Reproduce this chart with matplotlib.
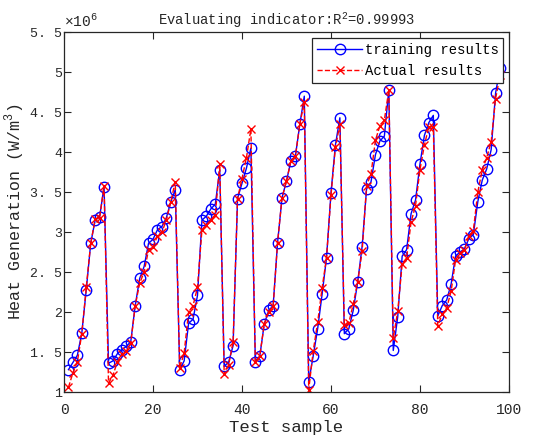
import matplotlib
matplotlib.use("Agg")
import matplotlib.pyplot as plt
import numpy as np

samples = list(range(1, 99))
training = [1.28, 1.37, 1.46, 1.74, 2.28, 2.86, 3.15, 3.19, 3.57, 1.36,
            1.39, 1.48, 1.53, 1.57, 1.63, 2.08, 2.42, 2.57, 2.86, 2.91,
            3.03, 3.07, 3.18, 3.38, 3.53, 1.28, 1.39, 1.86, 1.91, 2.21,
            3.15, 3.20, 3.29, 3.35, 3.78, 1.32, 1.375, 1.58, 3.42, 3.61,
            3.80, 4.05, 1.38, 1.45, 1.85, 2.02, 2.08, 2.87, 3.43, 3.64,
            3.89, 3.95, 4.35, 4.70, 1.13, 1.45, 1.79, 2.22, 2.68, 3.49,
            4.09, 4.43, 1.73, 1.79, 2.02, 2.375, 2.82, 3.54, 3.63, 3.97,
            4.14, 4.20, 4.78, 1.52, 1.94, 2.70, 2.78, 3.23, 3.40, 3.85,
            4.21, 4.37, 4.46, 1.95, 2.08, 2.15, 2.35, 2.70, 2.75, 2.79,
            2.92, 2.97, 3.38, 3.65, 3.79, 4.03, 4.74, 5.05]
actual = [1.06, 1.24, 1.38, 1.73, 2.31, 2.86, 3.16, 3.18, 3.58, 1.11,
          1.21, 1.38, 1.47, 1.51, 1.61, 2.08, 2.36, 2.50, 2.78, 2.82,
          2.95, 3.00, 3.15, 3.38, 3.63, 1.30, 1.49, 2.00, 2.08, 2.31,
          3.03, 3.09, 3.15, 3.22, 3.85, 1.22, 1.34, 1.63, 3.42, 3.67,
          3.93, 4.29, 1.375, 1.45, 1.85, 2.00, 2.07, 2.87, 3.43, 3.64,
          3.89, 3.95, 4.35, 4.63, 1.03, 1.51, 1.87, 2.30, 2.68, 3.46,
          4.06, 4.35, 1.84, 1.86, 2.10, 2.375, 2.76, 3.58, 3.73, 4.15,
          4.33, 4.40, 4.78, 1.675, 2.01, 2.60, 2.68, 3.125, 3.33, 3.78,
          4.09, 4.32, 4.32, 1.83, 1.97, 2.05, 2.26, 2.65, 2.74, 2.78,
          2.95, 3.02, 3.50, 3.78, 3.93, 4.13, 4.67, 4.96]
scale = 1e6
training_v = np.array(training) * scale
actual_v = np.array(actual) * scale

plt.rcParams['font.family'] = ['Liberation Mono', 'DejaVu Sans']
plt.rcParams['mathtext.fontset'] = 'custom'
plt.rcParams['mathtext.rm'] = 'Liberation Mono'

fig = plt.figure(figsize=(5.38, 4.41), dpi=100)
ax = fig.add_axes([0.119, 0.111, 0.827, 0.816])

ax.plot(samples, training_v / scale, '-o', color='#0000ff', lw=1.0,
        markersize=7.5, markerfacecolor='none', markeredgewidth=1.0,
        label='training results')
ax.plot(samples, actual_v / scale, '--x', color='#ff0000', lw=1.0,
        markersize=6, markeredgewidth=1.0, label='Actual results')

ax.set_xlim(0, 100)
ax.set_ylim(1, 5.5)
ax.set_xticks(np.arange(0, 101, 20))
yt = np.arange(1, 5.51, 0.5)
ax.set_yticks(yt)
ax.set_yticklabels([('%g' % v).replace('.', '. ') for v in yt])
ax.tick_params(direction='in', top=True, right=True, labelsize=10.5,
               length=5, width=0.8, colors='#262626')
ax.tick_params(axis='y', pad=1.5, labelsize=9.5)
ax.tick_params(axis='x', pad=8)
for s in ax.spines.values():
    s.set_linewidth(0.9)
    s.set_color('#262626')

ax.text(0.0, 1.005, r'$\times$10$^6$', transform=ax.transAxes,
        fontsize=10.5, ha='left', va='bottom', color='#262626')
ax.set_title(r'Evaluating indicator:R$^2$=0.99993', fontsize=10,
             color='#262626', pad=5)
ax.set_xlabel('Test sample', fontsize=12.5, color='#262626', labelpad=2)
ax.set_ylabel('Heat Generation (W/m$^3$)', fontsize=12, color='#262626')
ax.yaxis.set_label_coords(-0.084, 0.5)

leg = ax.legend(loc='upper right', fontsize=10, frameon=True,
                fancybox=False, edgecolor='#262626', framealpha=1,
                borderpad=0.35, handlelength=3.2, handletextpad=0.2,
                labelspacing=0.55, borderaxespad=0.4)
leg.get_frame().set_linewidth(0.9)

fig.savefig('out.png', dpi=100)
